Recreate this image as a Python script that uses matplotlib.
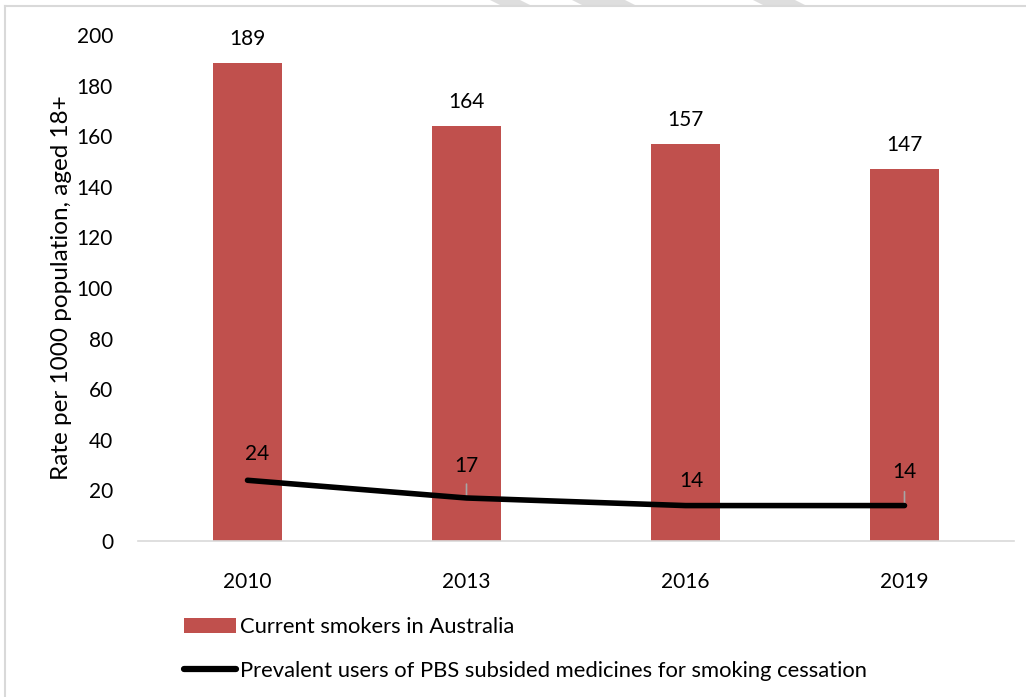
import matplotlib
matplotlib.use("Agg")
import matplotlib.pyplot as plt
from matplotlib.lines import Line2D
from matplotlib.patches import Polygon, Patch

years = ["2010", "2013", "2016", "2019"]
smokers = [189, 164, 157, 147]
pbs_users = [24, 17, 14, 14]
yticks = [0, 20, 40, 60, 80, 100, 120, 140, 160, 180, 200]

W, H = 1026, 697
fig = plt.figure(figsize=(W / 100, H / 100), dpi=100)
plt.rcParams['font.family'] = ['Lato', 'DejaVu Sans']

ax = fig.add_axes([138 / W, 1 - 541 / H, (1014 - 138) / W, (541 - 35) / H])
x = list(range(len(years)))
bar_color = "#C0504D"
ax.bar(x, smokers, width=0.315, color=bar_color, zorder=2, label="Current smokers in Australia")
ax.plot(x, pbs_users, color="black", lw=4, solid_capstyle="round", zorder=3,
        label="Prevalent users of PBS subsided medicines for smoking cessation")

ax.set_xlim(-0.5, len(years) - 0.5)
ax.set_ylim(0, 200)
ax.set_yticks(yticks)
ax.set_xticks(x)
ax.set_xticklabels(years)
ax.tick_params(axis='both', length=0, labelsize=15)
ax.tick_params(axis='y', pad=18)
ax.tick_params(axis='x', pad=22)
for s in ["top", "right", "left"]:
    ax.spines[s].set_visible(False)
ax.spines["bottom"].set_color("#d9d9d9")
ax.spines["bottom"].set_linewidth(1.2)
ax.set_ylabel("Rate per 1000 population, aged 18+", fontsize=17.5, labelpad=3.5)

# bar value labels
for xi, v in zip(x, smokers):
    ax.annotate(str(v), (xi, v), xytext=(0, 17), textcoords="offset points",
                ha="center", va="center", fontsize=15)

# line value labels (offsets in points)
offsets = [(7, 19), (0, 23), (4, 18), (0, 24)]
leaders = [False, True, False, True]
for xi, v, (dx, dy), ld in zip(x, pbs_users, offsets, leaders):
    ax.annotate(str(v), (xi, v), xytext=(dx, dy), textcoords="offset points",
                ha="center", va="center", fontsize=15, zorder=4)
    if ld:
        ax.annotate("", (xi, v), xytext=(0, 10), textcoords="offset points",
                    arrowprops=dict(arrowstyle="-", color="#a6a6a6", lw=1.2,
                                    shrinkA=0, shrinkB=0), zorder=2.5)

# legend
handles = [Patch(facecolor=bar_color, edgecolor="none"),
           Line2D([], [], color="black", lw=4.5, solid_capstyle="round")]
labels = ["Current smokers in Australia",
          "Prevalent users of PBS subsided medicines for smoking cessation"]
fig.legend(handles, labels, loc="upper left", bbox_to_anchor=(184 / W, 1 - 617 / H),
           frameon=False, fontsize=15.8, handlelength=2.36, handleheight=0.64,
           handletextpad=0.2, labelspacing=1.08, borderaxespad=0, borderpad=0)

# border
fig.add_artist(Line2D([5 / W, 5 / W], [0, 1 - 6 / H], transform=fig.transFigure,
                      color="#d9d9d9", lw=1.5))
fig.add_artist(Line2D([5 / W, 1], [1 - 6 / H, 1 - 6 / H], transform=fig.transFigure,
                      color="#d9d9d9", lw=1.5))

# faint watermark dashes at top
for (x0, x1) in [(490, 520), (572, 625), (753, 795)]:
    pts = [(x0 / W, 1.0), ((x0 + 12) / W, 1 - 6 / H), ((x1 + 12) / W, 1 - 6 / H), (x1 / W, 1.0)]
    fig.add_artist(Polygon(pts, closed=True, transform=fig.transFigure,
                           facecolor="#dedede", edgecolor="none"))

fig.savefig("out.png", dpi=100)
